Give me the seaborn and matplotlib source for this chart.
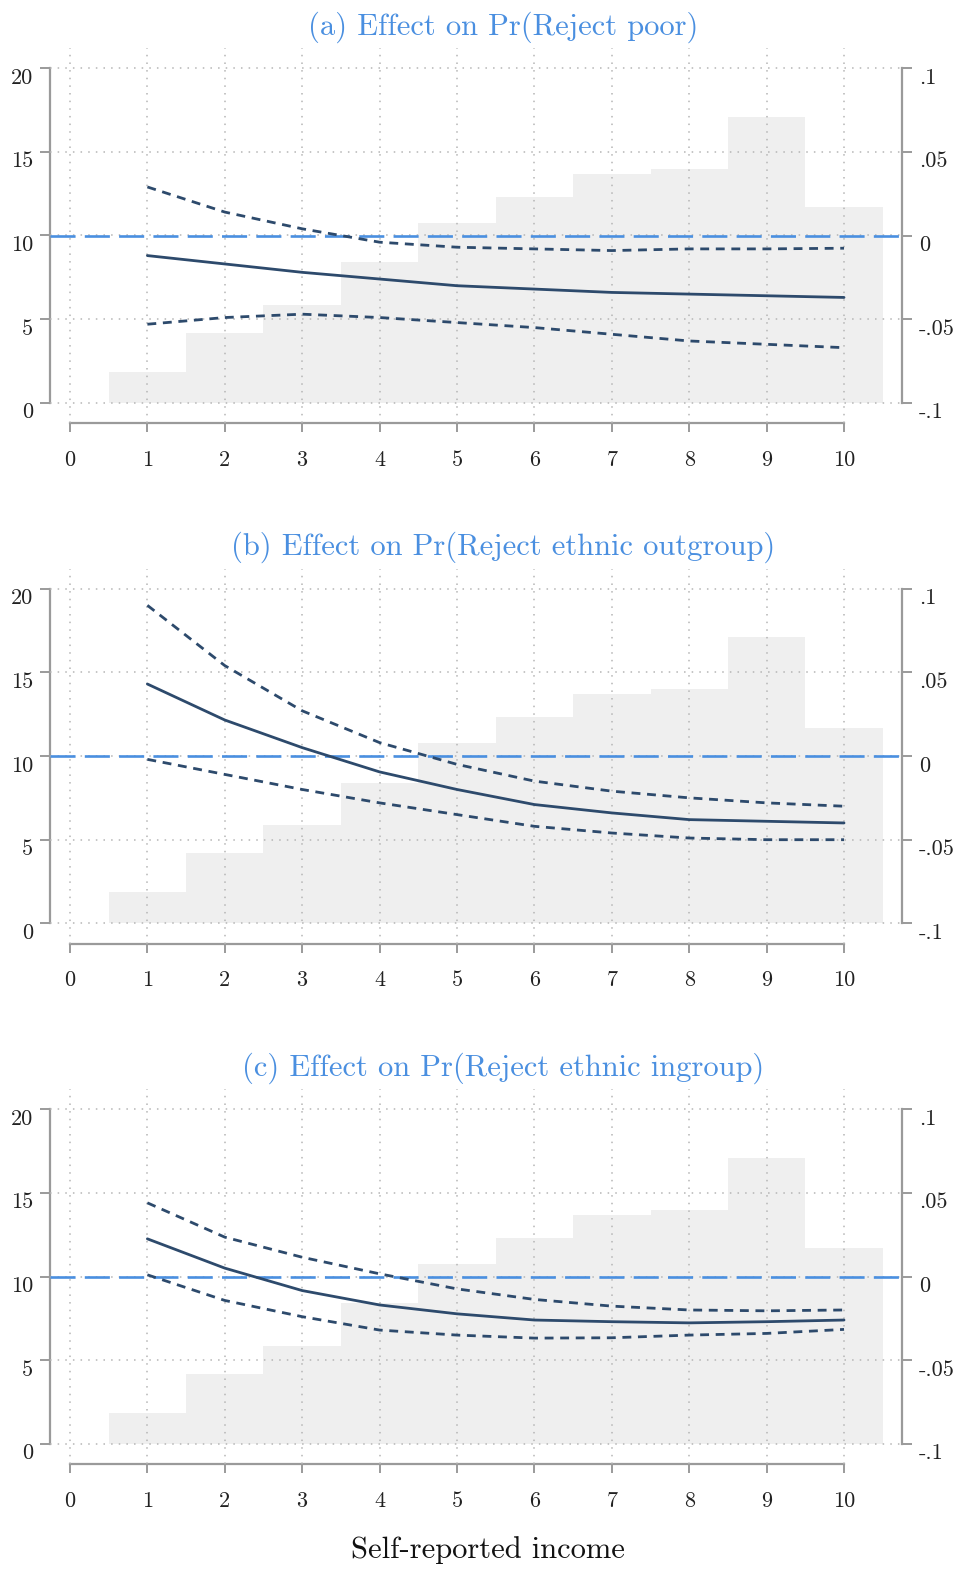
import numpy as np
import pandas as pd
import matplotlib
matplotlib.use("Agg")
import matplotlib.pyplot as plt
import seaborn as sns
from matplotlib.ticker import FixedLocator, FixedFormatter

# ---------------- data ----------------
income = [1, 2, 3, 4, 5, 6, 7, 8, 9, 10]
income_share = [1.85, 4.2, 5.85, 8.4, 10.75, 12.3, 13.7, 14.0, 17.1, 11.7]

titles = ["(a) Effect on Pr(Reject poor)",
          "(b) Effect on Pr(Reject ethnic outgroup)",
          "(c) Effect on Pr(Reject ethnic ingroup)"]

est_a = [-0.012, -0.017, -0.022, -0.026, -0.030, -0.032, -0.034, -0.035, -0.036, -0.037]
hi_a = [0.029, 0.014, 0.004, -0.004, -0.007, -0.008, -0.009, -0.008, -0.008, -0.0076]
lo_a = [-0.053, -0.049, -0.047, -0.049, -0.052, -0.055, -0.059, -0.063, -0.065, -0.067]

est_b = [0.043, 0.0215, 0.005, -0.0095, -0.020, -0.029, -0.034, -0.038, -0.039, -0.040]
hi_b = [0.090, 0.054, 0.027, 0.008, -0.005, -0.015, -0.021, -0.025, -0.028, -0.030]
lo_b = [-0.002, -0.011, -0.020, -0.028, -0.035, -0.042, -0.046, -0.049, -0.050, -0.050]

est_c = [0.0225, 0.005, -0.0084, -0.017, -0.0223, -0.026, -0.027, -0.0277, -0.027, -0.026]
hi_c = [0.044, 0.0235, 0.0115, 0.0016, -0.0074, -0.0137, -0.0177, -0.020, -0.0205, -0.020]
lo_c = [0.001, -0.0143, -0.024, -0.032, -0.035, -0.0368, -0.0366, -0.035, -0.034, -0.0316]

x_ticks = [0, 1, 2, 3, 4, 5, 6, 7, 8, 9, 10]
left_ticks = [0, 5, 10, 15, 20]
left_labels = ["0", "5", "10", "15", "20"]
right_ticks = [-0.1, -0.05, 0, 0.05, 0.1]
right_labels = ["-.1", "-.05", "0", ".05", ".1"]
xlabel = "Self-reported income"

panels = [(titles[0], est_a, lo_a, hi_a),
          (titles[1], est_b, lo_b, hi_b),
          (titles[2], est_c, lo_c, hi_c)]

# ---------------- style ----------------
sns.set_theme(style="white")
plt.rcParams["font.family"] = ["cmr10", "DejaVu Serif"]
plt.rcParams["axes.unicode_minus"] = False
plt.rcParams["axes.formatter.use_mathtext"] = True

NAVY = "#2d4a6c"
BLUE = "#4a8fe0"
BAR = "#efefef"
SPINE = "#9a9a9a"
GRID = "#b5b5b5"
TICK_FS = 16

W, H = 961, 1573
fig = plt.figure(figsize=(W / 100, H / 100), dpi=100)

for i, (title, est, lo, hi) in enumerate(panels):
    off = 520.5 * i
    ax = fig.add_axes([50 / W, 1 - (423 + off) / H, 852 / W, 375 / H])
    sns.histplot(x=income, weights=income_share, discrete=True, ax=ax,
                 color=BAR, alpha=1, linewidth=0, zorder=1)
    ax.set_xlim(-0.258, 10.749)
    ax.set_ylim(-1.2, 21.2)
    ax.set_ylabel("")
    ax.set_xlabel("")
    ax.set_axisbelow(False)
    ax.xaxis.set_major_locator(FixedLocator(x_ticks))
    ax.xaxis.set_major_formatter(FixedFormatter([str(t) for t in x_ticks]))
    ax.yaxis.set_major_locator(FixedLocator(left_ticks))
    ax.yaxis.set_major_formatter(FixedFormatter(left_labels))
    ax.grid(True, linestyle=(0, (1, 4)), color=GRID, linewidth=1.1)
    for s in ["top", "right"]:
        ax.spines[s].set_visible(False)
    ax.spines["left"].set_bounds(0, 20)
    ax.spines["bottom"].set_bounds(0, 10)
    for s in ["left", "bottom"]:
        ax.spines[s].set_color(SPINE)
        ax.spines[s].set_linewidth(1.6)
    ax.tick_params(axis="y", which="both", left=True, direction="out", length=7,
                   width=1.4, color=SPINE, pad=5, labelsize=TICK_FS, labelcolor="#222")
    ax.tick_params(axis="x", which="both", bottom=True, direction="out", length=6.5,
                   width=1.4, color=SPINE, pad=13, labelsize=TICK_FS, labelcolor="#222")
    for lab in ax.get_yticklabels():
        lab.set_verticalalignment("top")

    ax2 = ax.twinx()
    ax2.set_ylim(-0.112, 0.112)
    ax2.grid(False)
    for s in ["top", "left", "bottom"]:
        ax2.spines[s].set_visible(False)
    ax2.spines["right"].set_bounds(-0.1, 0.1)
    ax2.spines["right"].set_color(SPINE)
    ax2.spines["right"].set_linewidth(1.6)
    ax2.yaxis.set_major_locator(FixedLocator(right_ticks))
    ax2.yaxis.set_major_formatter(FixedFormatter(right_labels))
    ax2.tick_params(axis="y", right=True, direction="out", length=7, width=1.4,
                    color=SPINE, pad=5, labelsize=TICK_FS, labelcolor="#222")
    for lab in ax2.get_yticklabels():
        lab.set_verticalalignment("top")

    ax2.axhline(0, color=BLUE, linewidth=1.9,
                linestyle=(0, (9.5, 3.5)), zorder=2)

    df = pd.DataFrame({"income": income, "est": est, "lo": lo, "hi": hi})
    sns.lineplot(data=df, x="income", y="est", ax=ax2, color=NAVY,
                 linewidth=2.0, zorder=4)
    sns.lineplot(data=df, x="income", y="hi", ax=ax2, color=NAVY,
                 linewidth=2.0, linestyle=(0, (3.2, 2.4)), zorder=4)
    sns.lineplot(data=df, x="income", y="lo", ax=ax2, color=NAVY,
                 linewidth=2.0, linestyle=(0, (3.2, 2.4)), zorder=4)
    ax2.set_ylabel("")
    ax2.set_xlabel("")
    ax2.set_xlim(-0.258, 10.749)

    ax.text((503 - 50) / 852, (423 - 27) / 375, title, transform=ax.transAxes,
            ha="center", va="center", color=BLUE, fontsize=22)

    if i == 2:
        ax.set_xlabel(xlabel, fontsize=22, color="#111")
        ax.xaxis.label.set_verticalalignment("center")
        ax.xaxis.set_label_coords((488 - 50) / 852, (1464 - 1550) / 375)

fig.savefig("out.png", dpi=100)
